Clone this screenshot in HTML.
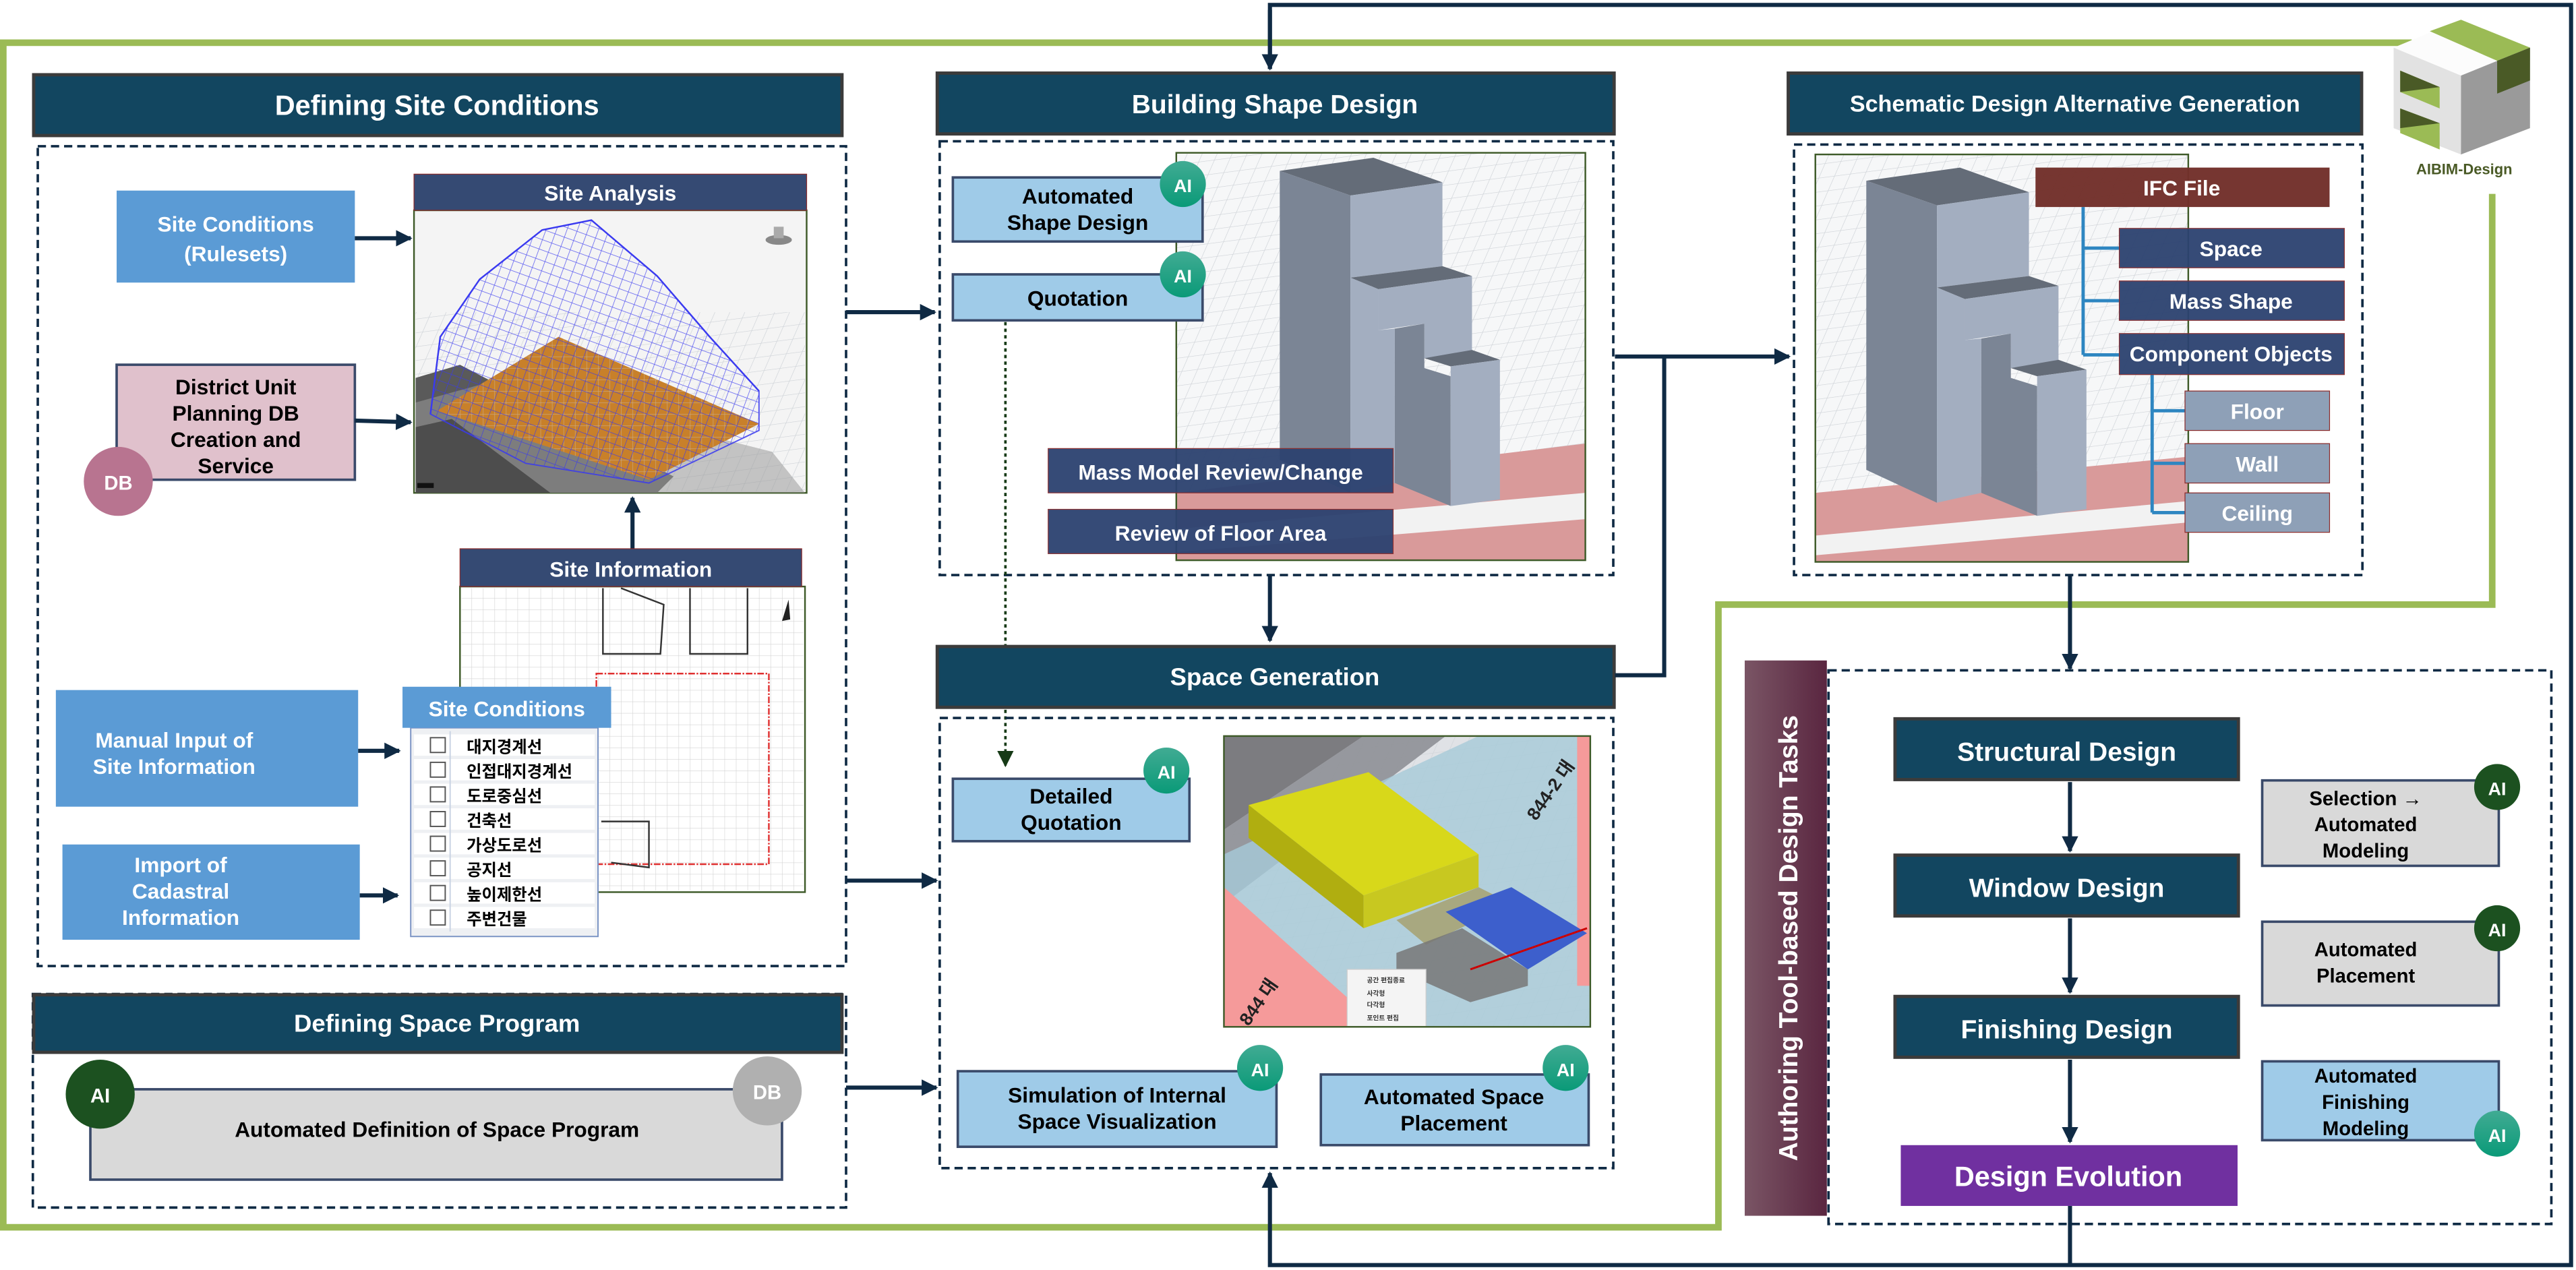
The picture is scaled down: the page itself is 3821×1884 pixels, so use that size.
<!DOCTYPE html>
<html><head><meta charset="utf-8">
<style>
html,body{margin:0;padding:0;background:#fff;}
body{width:3821px;height:1884px;overflow:hidden;}
svg{display:block;}
text{font-family:"Liberation Sans Narrow","Liberation Sans","Noto Sans CJK KR",sans-serif;font-weight:bold;}
.w{fill:#fff;}
.k{fill:#000;}
</style></head>
<body>
<svg width="3821" height="1884" viewBox="0 0 1568 773" preserveAspectRatio="none" xmlns="http://www.w3.org/2000/svg">
<defs>
<pattern id="grid" width="9" height="9" patternUnits="userSpaceOnUse" patternTransform="skewX(-30) rotate(-8)">
<path d="M0 0H9M0 0V9" stroke="#cfd3d8" stroke-width="0.6" fill="none"/></pattern>
<pattern id="grid2" width="7" height="7" patternUnits="userSpaceOnUse">
<path d="M0 0H7M0 0V7" stroke="#c8c8c8" stroke-width="0.5" fill="none"/></pattern>
<pattern id="mesh" width="6" height="6" patternUnits="userSpaceOnUse" patternTransform="rotate(20)">
<path d="M0 0H6M0 0V6" stroke="#3a3af0" stroke-width="0.6" fill="none"/></pattern>
<pattern id="pinkgrid" width="8" height="8" patternUnits="userSpaceOnUse" patternTransform="rotate(40)">
<path d="M0 0H8M0 0V8" stroke="#e88" stroke-width="0.5" fill="none"/></pattern>
<linearGradient id="aut" x1="0" x2="1" y1="0" y2="0"><stop offset="0" stop-color="#7a5565"/><stop offset="1" stop-color="#5a2640"/></linearGradient>
<linearGradient id="aig" x1="0" x2="0" y1="0" y2="1"><stop offset="0" stop-color="#41ab93"/><stop offset="1" stop-color="#0a9a78"/></linearGradient>
<marker id="ah" markerWidth="6" markerHeight="6" refX="5" refY="3" orient="auto" markerUnits="userSpaceOnUse" viewBox="0 0 6 6"><path d="M0 0L6 3L0 6Z" fill="#0f2a44"/></marker>
<marker id="ahb" markerWidth="10" markerHeight="10" refX="9" refY="5" orient="auto" markerUnits="userSpaceOnUse" viewBox="0 0 10 10"><path d="M0 0L10 5L0 10Z" fill="#0f2a44"/></marker>
<marker id="ahg" markerWidth="10" markerHeight="10" refX="9" refY="5" orient="auto" markerUnits="userSpaceOnUse" viewBox="0 0 10 10"><path d="M0 0L10 5L0 10Z" fill="#163a16"/></marker>
</defs>

<!-- green outer frame -->
<path d="M1468 26 L2 26 L2 747 L1046 747 L1046 368 L1517 368 L1517 118" fill="none" stroke="#9bbb55" stroke-width="4"/>
<!-- navy feedback loop -->
<path d="M773 42 L773 3 L1565 3 L1565 770 L773 770 L773 714" fill="none" stroke="#0f2a44" stroke-width="2.5" marker-end="url(#ahb)"/>
<line x1="773" y1="6" x2="773" y2="42" stroke="#0f2a44" stroke-width="2.5" marker-end="url(#ahb)"/>
<line x1="1260" y1="734" x2="1260" y2="770" stroke="#0f2a44" stroke-width="2.5"/>

<!-- ================= Defining Site Conditions ================= -->
<rect x="20.5" y="45.5" width="492" height="37" fill="#124660" stroke="#3b3b3b" stroke-width="2"/>
<text x="266" y="70" font-size="17" text-anchor="middle" class="w">Defining Site Conditions</text>
<rect x="23" y="89" width="492" height="499" fill="none" stroke="#0f2a44" stroke-width="1.5" stroke-dasharray="5,3"/>

<rect x="71" y="116" width="145" height="56" fill="#5b9bd5"/>
<text x="143.5" y="141" font-size="13" text-anchor="middle" class="w">Site Conditions</text>
<text x="143.5" y="159" font-size="13" text-anchor="middle" class="w">(Rulesets)</text>

<rect x="71" y="222" width="145" height="70" fill="#e0c1cc" stroke="#3a4a6a" stroke-width="1.5"/>
<text x="143.5" y="240" font-size="13" text-anchor="middle" class="k">District Unit</text>
<text x="143.5" y="256" font-size="13" text-anchor="middle" class="k">Planning DB</text>
<text x="143.5" y="272" font-size="13" text-anchor="middle" class="k">Creation and</text>
<text x="143.5" y="288" font-size="13" text-anchor="middle" class="k">Service</text>
<circle cx="72" cy="293" r="21" fill="#b87490"/>
<text x="72" y="298" font-size="12" text-anchor="middle" class="w">DB</text>

<line x1="216" y1="145" x2="250" y2="145" stroke="#0f2a44" stroke-width="2.5" marker-end="url(#ahb)"/>
<line x1="216" y1="256" x2="250" y2="257" stroke="#0f2a44" stroke-width="2.5" marker-end="url(#ahb)"/>

<!-- Site analysis image -->
<rect x="252" y="128" width="239" height="172" fill="#f4f4f4" stroke="#3e5a28" stroke-width="1"/>
<rect x="253" y="190" width="237" height="109" fill="url(#grid)"/>
<polygon points="253,230 280,222 410,290 400,300 253,300" fill="#5a5a5a"/>
<polygon points="253,245 300,232 470,275 490,300 253,300" fill="#9a9a9a" opacity="0.55"/>
<polygon points="253,260 275,255 335,300 253,300" fill="#4d4d4d"/>
<polygon points="266,250 340,205 462,258 395,292" fill="#c8802a"/>
<polygon points="266,250 340,205 462,258 395,292" fill="url(#grid2)" opacity="0.6"/>
<polygon points="262,252 268,205 292,170 330,140 360,134 400,168 432,205 462,238 462,262 395,294 320,282" fill="url(#mesh)" stroke="#3a3af0" stroke-width="0.8" opacity="0.85"/>
<polyline points="262,252 268,205 292,170 330,140 360,134 400,168 432,205 462,238" fill="none" stroke="#3a3af0" stroke-width="1"/>
<ellipse cx="474" cy="146" rx="8" ry="3" fill="#888"/>
<rect x="471" y="138" width="6" height="7" fill="#aaa"/>
<rect x="254" y="294" width="10" height="3" fill="#111"/>
<rect x="252" y="106" width="239" height="22" fill="#354a73" stroke="#8a2a2a" stroke-width="0.5"/>
<text x="371.5" y="122" font-size="13" text-anchor="middle" class="w">Site Analysis</text>

<line x1="385" y1="334" x2="385" y2="303" stroke="#0f2a44" stroke-width="2.5" marker-end="url(#ahb)"/>

<!-- Site information -->
<rect x="280" y="357" width="210" height="186" fill="#fff" stroke="#3e5a28" stroke-width="1"/>
<rect x="281" y="358" width="208" height="184" fill="url(#grid2)" opacity="0.8"/>
<rect x="363" y="410" width="105" height="116" fill="none" stroke="#e03030" stroke-width="1" stroke-dasharray="4,1,1,1"/>
<path d="M367 358 L367 398 L402 398 L404 368 L378 358" fill="none" stroke="#333" stroke-width="1"/>
<path d="M420 358 L420 398 L455 398 L455 358" fill="none" stroke="#333" stroke-width="1"/>
<path d="M366 500 L395 500 L395 528 L372 525" fill="none" stroke="#333" stroke-width="1"/>
<path d="M480 365 L476 378 L481 377Z" fill="#222"/>
<rect x="280" y="334" width="208" height="23" fill="#354a73" stroke="#8a2a2a" stroke-width="0.5"/>
<text x="384" y="351" font-size="13" text-anchor="middle" class="w">Site Information</text>

<!-- Site Conditions list -->
<rect x="250" y="443" width="114" height="127" fill="#eef0f3" stroke="#7a93c4" stroke-width="0.8"/>
<g font-size="10" font-family="Noto Sans CJK KR,sans-serif">
<rect x="252" y="447" width="110" height="13" fill="#fff"/><rect x="262" y="449" width="9" height="9" fill="#fff" stroke="#555" stroke-width="0.8"/><text x="284" y="458" font-size="10" class="k" font-weight="normal">대지경계선</text>
<rect x="252" y="462" width="110" height="13" fill="#fff"/><rect x="262" y="464" width="9" height="9" fill="#fff" stroke="#555" stroke-width="0.8"/><text x="284" y="473" font-size="10" class="k" font-weight="normal">인접대지경계선</text>
<rect x="252" y="477" width="110" height="13" fill="#fff"/><rect x="262" y="479" width="9" height="9" fill="#fff" stroke="#555" stroke-width="0.8"/><text x="284" y="488" font-size="10" class="k" font-weight="normal">도로중심선</text>
<rect x="252" y="492" width="110" height="13" fill="#fff"/><rect x="262" y="494" width="9" height="9" fill="#fff" stroke="#555" stroke-width="0.8"/><text x="284" y="503" font-size="10" class="k" font-weight="normal">건축선</text>
<rect x="252" y="507" width="110" height="13" fill="#fff"/><rect x="262" y="509" width="9" height="9" fill="#fff" stroke="#555" stroke-width="0.8"/><text x="284" y="518" font-size="10" class="k" font-weight="normal">가상도로선</text>
<rect x="252" y="522" width="110" height="13" fill="#fff"/><rect x="262" y="524" width="9" height="9" fill="#fff" stroke="#555" stroke-width="0.8"/><text x="284" y="533" font-size="10" class="k" font-weight="normal">공지선</text>
<rect x="252" y="537" width="110" height="13" fill="#fff"/><rect x="262" y="539" width="9" height="9" fill="#fff" stroke="#555" stroke-width="0.8"/><text x="284" y="548" font-size="10" class="k" font-weight="normal">높이제한선</text>
<rect x="252" y="552" width="110" height="13" fill="#fff"/><rect x="262" y="554" width="9" height="9" fill="#fff" stroke="#555" stroke-width="0.8"/><text x="284" y="563" font-size="10" class="k" font-weight="normal">주변건물</text>
</g>
<line x1="274" y1="445" x2="274" y2="567" stroke="#c9d3e3" stroke-width="0.8"/>
<rect x="245" y="418" width="127" height="25" fill="#5b9bd5"/>
<text x="308.5" y="436" font-size="13" text-anchor="middle" class="w">Site Conditions</text>

<rect x="34" y="420" width="184" height="71" fill="#5b9bd5"/>
<text x="106" y="455" font-size="13" text-anchor="middle" class="w">Manual Input of</text>
<text x="106" y="471" font-size="13" text-anchor="middle" class="w">Site Information</text>
<rect x="38" y="514" width="181" height="58" fill="#5b9bd5"/>
<text x="110" y="531" font-size="13" text-anchor="middle" class="w">Import of</text>
<text x="110" y="547" font-size="13" text-anchor="middle" class="w">Cadastral</text>
<text x="110" y="563" font-size="13" text-anchor="middle" class="w">Information</text>
<line x1="218" y1="457" x2="243" y2="457" stroke="#0f2a44" stroke-width="2.5" marker-end="url(#ahb)"/>
<line x1="219" y1="545" x2="242" y2="545" stroke="#0f2a44" stroke-width="2.5" marker-end="url(#ahb)"/>

<!-- ================= Defining Space Program ================= -->
<rect x="20" y="605" width="495" height="130" fill="none" stroke="#0f2a44" stroke-width="1.5" stroke-dasharray="5,3"/>
<rect x="20.5" y="605.5" width="492" height="35" fill="#124660" stroke="#3b3b3b" stroke-width="2"/>
<text x="266" y="628" font-size="15" text-anchor="middle" class="w">Defining Space Program</text>
<rect x="55" y="663" width="421" height="55" fill="#d9d9d9" stroke="#3a4a6a" stroke-width="1.5"/>
<text x="266" y="692" font-size="13" text-anchor="middle" class="k">Automated Definition of Space Program</text>
<circle cx="61" cy="666" r="21" fill="#1c5120"/>
<text x="61" y="671" font-size="12" text-anchor="middle" class="w">AI</text>
<circle cx="467" cy="664" r="21" fill="#b0b0b0"/>
<text x="467" y="669" font-size="12" text-anchor="middle" class="w">DB</text>

<!-- arrows from left column -->
<line x1="515" y1="190" x2="569" y2="190" stroke="#0f2a44" stroke-width="2.5" marker-end="url(#ahb)"/>
<line x1="515" y1="536" x2="570" y2="536" stroke="#0f2a44" stroke-width="2.5" marker-end="url(#ahb)"/>
<line x1="515" y1="662" x2="570" y2="662" stroke="#0f2a44" stroke-width="2.5" marker-end="url(#ahb)"/>

<!-- ================= Building Shape Design ================= -->
<rect x="570.5" y="44.5" width="412" height="37" fill="#124660" stroke="#3b3b3b" stroke-width="2"/>
<text x="776" y="69" font-size="16" text-anchor="middle" class="w">Building Shape Design</text>
<rect x="572" y="86" width="410" height="264" fill="none" stroke="#0f2a44" stroke-width="1.5" stroke-dasharray="5,3"/>

<g id="bimg">
<rect x="716" y="93" width="249" height="248" fill="#f6f7f8"/>
<rect x="716" y="93" width="249" height="248" fill="url(#grid)"/>
<polygon points="716,300 965,270 965,341 716,341" fill="#d99a9a"/>
<polygon points="716,322 965,300 965,316 716,336" fill="#f2f2f2"/>
<g transform="translate(-357,-6)">
<polygon points="1136,110 1193,102 1235,117 1179,125" fill="#646c78"/>
<polygon points="1136,110 1179,125 1179,306 1136,286" fill="#7b8595"/>
<polygon points="1179,125 1235,117 1235,168 1179,175" fill="#a3aec0"/>
<polygon points="1179,175 1235,168 1253,174 1196,182" fill="#646c78"/>
<polygon points="1179,175 1196,182 1196,207 1206,206 1206,300 1179,306" fill="#a3aec0"/>
<polygon points="1196,182 1253,174 1253,220 1224,224 1224,203 1196,207" fill="#a3aec0"/>
<polygon points="1206,206 1224,203 1224,230 1240,235 1240,314 1206,300" fill="#7b8595"/>
<polygon points="1224,224 1253,219 1270,225 1240,229" fill="#646c78"/>
<polygon points="1240,229 1270,225 1270,310 1240,314" fill="#a3aec0"/>
</g>
</g>
<rect x="716" y="93" width="249" height="248" fill="none" stroke="#3e5a28" stroke-width="1"/>

<rect x="580" y="108" width="152" height="39" fill="#9fcbe8" stroke="#3a4a6a" stroke-width="1.5"/>
<text x="656" y="124" font-size="13" text-anchor="middle" class="k">Automated</text>
<text x="656" y="140" font-size="13" text-anchor="middle" class="k">Shape Design</text>
<circle cx="720" cy="112" r="14" fill="url(#aig)"/>
<text x="720" y="117" font-size="11" text-anchor="middle" class="w">AI</text>
<rect x="580" y="167" width="152" height="28" fill="#9fcbe8" stroke="#3a4a6a" stroke-width="1.5"/>
<text x="656" y="186" font-size="13" text-anchor="middle" class="k">Quotation</text>
<circle cx="720" cy="167" r="14" fill="url(#aig)"/>
<text x="720" y="172" font-size="11" text-anchor="middle" class="w">AI</text>

<rect x="638" y="273" width="210" height="27" fill="#2c4270" opacity="0.95" stroke="#8a2a2a" stroke-width="0.5"/>
<text x="743" y="292" font-size="13" text-anchor="middle" class="w">Mass Model Review/Change</text>
<rect x="638" y="310" width="210" height="27" fill="#2c4270" opacity="0.95" stroke="#8a2a2a" stroke-width="0.5"/>
<text x="743" y="329" font-size="13" text-anchor="middle" class="w">Review of Floor Area</text>

<!-- dotted quotation -> detailed quotation -->
<line x1="612" y1="196" x2="612" y2="466" stroke="#163a16" stroke-width="1.5" stroke-dasharray="2,2" marker-end="url(#ahg)"/>

<line x1="773" y1="350" x2="773" y2="390" stroke="#0f2a44" stroke-width="2.5" marker-end="url(#ahb)"/>

<!-- ================= Space Generation ================= -->
<rect x="570.5" y="393.5" width="412" height="37" fill="#124660" stroke="#3b3b3b" stroke-width="2"/>
<text x="776" y="417" font-size="15" text-anchor="middle" class="w">Space Generation</text>
<rect x="572" y="437" width="410" height="274" fill="none" stroke="#0f2a44" stroke-width="1.5" stroke-dasharray="5,3"/>

<rect x="745" y="448" width="223" height="177" fill="#e0e2e6"/>
<rect x="745" y="448" width="223" height="177" fill="url(#grid)"/>
<polygon points="745,448 830,448 745,505" fill="#7c7c80"/>
<polygon points="830,448 880,448 745,550 745,505" fill="#8e9096" opacity="0.9"/>
<polygon points="745,520 900,448 968,448 968,625 745,625" fill="#a6cad8" opacity="0.8"/>
<polygon points="745,540 840,625 745,625" fill="#f59a9a"/>
<polygon points="968,448 968,600 960,600 960,448" fill="#f59a9a"/>
<polygon points="760,490 833,470 900,520 830,545" fill="#d8d81a"/>
<polygon points="760,490 830,545 830,565 760,510" fill="#b0ae10"/>
<polygon points="830,545 900,520 900,540 830,565" fill="#c8c820"/>
<polygon points="850,560 900,540 920,550 868,575" fill="#a8a880"/>
<polygon points="880,555 920,540 966,568 930,590" fill="#3d5fcc"/>
<polygon points="850,580 890,565 930,590 930,600 895,610 850,590" fill="#777" opacity="0.85"/>
<line x1="895" y1="590" x2="966" y2="565" stroke="#c00" stroke-width="1.2"/>
<rect x="820" y="590" width="48" height="35" fill="#f4f4f4" stroke="#ccc" stroke-width="0.5"/>
<text x="832" y="598" font-size="4" fill="#333" font-weight="normal" font-family="Noto Sans CJK KR,sans-serif">공간 편집종료</text>
<text x="832" y="606" font-size="4" fill="#333" font-weight="normal" font-family="Noto Sans CJK KR,sans-serif">사각형</text>
<text x="832" y="613" font-size="4" fill="#333" font-weight="normal" font-family="Noto Sans CJK KR,sans-serif">다각형</text>
<text x="832" y="621" font-size="4" fill="#333" font-weight="normal" font-family="Noto Sans CJK KR,sans-serif">포인트 편집</text>
<text x="935" y="500" font-size="11" fill="#222" font-weight="normal" transform="rotate(-55 935 500)">844-2 대</text>
<text x="760" y="625" font-size="11" fill="#222" font-weight="normal" transform="rotate(-55 760 625)">844 대</text>
<rect x="745" y="448" width="223" height="177" fill="none" stroke="#3e5a28" stroke-width="1"/>

<rect x="580" y="474" width="144" height="38" fill="#9fcbe8" stroke="#3a4a6a" stroke-width="1.5"/>
<text x="652" y="489" font-size="13" text-anchor="middle" class="k">Detailed</text>
<text x="652" y="505" font-size="13" text-anchor="middle" class="k">Quotation</text>
<circle cx="710" cy="469" r="14" fill="url(#aig)"/>
<text x="710" y="474" font-size="11" text-anchor="middle" class="w">AI</text>

<rect x="583" y="652" width="194" height="46" fill="#9fcbe8" stroke="#3a4a6a" stroke-width="1.5"/>
<text x="680" y="671" font-size="13" text-anchor="middle" class="k">Simulation of Internal</text>
<text x="680" y="687" font-size="13" text-anchor="middle" class="k">Space Visualization</text>
<circle cx="767" cy="650" r="14" fill="url(#aig)"/>
<text x="767" y="655" font-size="11" text-anchor="middle" class="w">AI</text>

<rect x="804" y="654" width="163" height="43" fill="#9fcbe8" stroke="#3a4a6a" stroke-width="1.5"/>
<text x="885" y="672" font-size="13" text-anchor="middle" class="k">Automated Space</text>
<text x="885" y="688" font-size="13" text-anchor="middle" class="k">Placement</text>
<circle cx="953" cy="650" r="14" fill="url(#aig)"/>
<text x="953" y="655" font-size="11" text-anchor="middle" class="w">AI</text>

<!-- connectors to schematic -->
<path d="M983 217 L1089 217" fill="none" stroke="#0f2a44" stroke-width="2.5" marker-end="url(#ahb)"/>
<path d="M983 411 L1013 411 L1013 217" fill="none" stroke="#0f2a44" stroke-width="2.5"/>

<!-- ================= Schematic ================= -->
<rect x="1088.5" y="44.5" width="349" height="37" fill="#124660" stroke="#3b3b3b" stroke-width="2"/>
<text x="1263" y="68" font-size="14" text-anchor="middle" class="w">Schematic Design Alternative Generation</text>
<rect x="1092" y="88" width="346" height="262" fill="none" stroke="#0f2a44" stroke-width="1.5" stroke-dasharray="5,3"/>

<rect x="1105" y="94" width="227" height="248" fill="#f6f7f8"/>
<rect x="1105" y="94" width="227" height="248" fill="url(#grid)"/>
<polygon points="1105,300 1332,278 1332,342 1105,342" fill="#d99a9a"/>
<polygon points="1105,326 1332,305 1332,318 1105,338" fill="#f2f2f2"/>
<polygon points="1136,110 1193,102 1235,117 1179,125" fill="#646c78"/>
<polygon points="1136,110 1179,125 1179,306 1136,286" fill="#7b8595"/>
<polygon points="1179,125 1235,117 1235,168 1179,175" fill="#a3aec0"/>
<polygon points="1179,175 1235,168 1253,174 1196,182" fill="#646c78"/>
<polygon points="1179,175 1196,182 1196,207 1206,206 1206,300 1179,306" fill="#a3aec0"/>
<polygon points="1196,182 1253,174 1253,220 1224,224 1224,203 1196,207" fill="#a3aec0"/>
<polygon points="1206,206 1224,203 1224,230 1240,235 1240,314 1206,300" fill="#7b8595"/>
<polygon points="1224,224 1253,219 1270,225 1240,229" fill="#646c78"/>
<polygon points="1240,229 1270,225 1270,310 1240,314" fill="#a3aec0"/>
<rect x="1105" y="94" width="227" height="248" fill="none" stroke="#3e5a28" stroke-width="1"/>

<path d="M1268 126 V216 M1268 151 H1290 M1268 183 H1290 M1268 216 H1290 M1310 228 V312 M1310 250 H1330 M1310 282 H1330 M1310 312 H1330" fill="none" stroke="#2e86c1" stroke-width="2"/>
<rect x="1239" y="102" width="179" height="24" fill="#722f2a" opacity="0.97"/>
<text x="1328" y="119" font-size="13" text-anchor="middle" class="w">IFC File</text>
<rect x="1290" y="139" width="137" height="24" fill="#2c4270" opacity="0.95" stroke="#8a2a2a" stroke-width="0.5"/>
<text x="1358" y="156" font-size="13" text-anchor="middle" class="w">Space</text>
<rect x="1290" y="171" width="137" height="24" fill="#2c4270" opacity="0.95" stroke="#8a2a2a" stroke-width="0.5"/>
<text x="1358" y="188" font-size="13" text-anchor="middle" class="w">Mass Shape</text>
<rect x="1290" y="203" width="137" height="25" fill="#2c4270" opacity="0.95" stroke="#8a2a2a" stroke-width="0.5"/>
<text x="1358" y="220" font-size="13" text-anchor="middle" class="w">Component Objects</text>
<rect x="1330" y="238" width="88" height="24" fill="#8ea0b7" stroke="#8a2a2a" stroke-width="0.5"/>
<text x="1374" y="255" font-size="13" text-anchor="middle" class="w">Floor</text>
<rect x="1330" y="270" width="88" height="24" fill="#8ea0b7" stroke="#8a2a2a" stroke-width="0.5"/>
<text x="1374" y="287" font-size="13" text-anchor="middle" class="w">Wall</text>
<rect x="1330" y="300" width="88" height="24" fill="#8ea0b7" stroke="#8a2a2a" stroke-width="0.5"/>
<text x="1374" y="317" font-size="13" text-anchor="middle" class="w">Ceiling</text>

<!-- logo -->
<polygon points="1457,29 1498,12 1540,29 1498,46" fill="#fcfcfc"/>
<polygon points="1479,19 1498,12 1540,29 1520,37" fill="#9bbb55"/>
<polygon points="1457,29 1498,46 1498,94 1457,78" fill="#e2e2e2"/>
<polygon points="1498,46 1540,29 1540,78 1498,94" fill="#9a9a9a"/>
<polygon points="1520,37 1540,29 1540,49 1520,57" fill="#4a5a26"/>
<polygon points="1461,43 1485,53 1485,66 1461,56" fill="#9bbb55"/>
<polygon points="1461,43 1485,53 1461,56" fill="#4a5a26"/>
<polygon points="1461,66 1485,75 1485,91 1461,81" fill="#9bbb55"/>
<polygon points="1461,66 1485,75 1461,78" fill="#4a5a26"/>
<text x="1500" y="106" font-size="9" text-anchor="middle" fill="#4a5a26">AIBIM-Design</text>

<line x1="1260" y1="350" x2="1260" y2="407" stroke="#0f2a44" stroke-width="2.5" marker-end="url(#ahb)"/>

<!-- ================= Authoring ================= -->
<rect x="1062" y="402" width="50" height="338" fill="url(#aut)"/>
<text x="0" y="0" font-size="16" text-anchor="middle" class="w" font-family="DejaVu Sans,sans-serif" transform="translate(1094 571) rotate(-90)">Authoring Tool-based Design Tasks</text>
<rect x="1113" y="408" width="440" height="337" fill="none" stroke="#0f2a44" stroke-width="1.5" stroke-dasharray="5,3"/>

<rect x="1153.5" y="437.5" width="209" height="37" fill="#124660" stroke="#3b3b3b" stroke-width="2"/>
<text x="1258" y="463" font-size="16" text-anchor="middle" class="w">Structural Design</text>
<rect x="1153.5" y="520.5" width="209" height="37" fill="#124660" stroke="#3b3b3b" stroke-width="2"/>
<text x="1258" y="546" font-size="16" text-anchor="middle" class="w">Window Design</text>
<rect x="1153.5" y="606.5" width="209" height="37" fill="#124660" stroke="#3b3b3b" stroke-width="2"/>
<text x="1258" y="632" font-size="16" text-anchor="middle" class="w">Finishing Design</text>
<rect x="1157" y="697" width="205" height="37" fill="#7030a0"/>
<text x="1259" y="722" font-size="17" text-anchor="middle" class="w">Design Evolution</text>
<line x1="1260" y1="476" x2="1260" y2="518" stroke="#0f2a44" stroke-width="2.5" marker-end="url(#ahb)"/>
<line x1="1260" y1="559" x2="1260" y2="604" stroke="#0f2a44" stroke-width="2.5" marker-end="url(#ahb)"/>
<line x1="1260" y1="645" x2="1260" y2="695" stroke="#0f2a44" stroke-width="2.5" marker-end="url(#ahb)"/>

<rect x="1377" y="475" width="144" height="52" fill="#d9d9d9" stroke="#3a4a6a" stroke-width="1.5"/>
<text x="1440" y="490" font-size="12" text-anchor="middle" class="k">Selection →</text>
<text x="1440" y="506" font-size="12" text-anchor="middle" class="k">Automated</text>
<text x="1440" y="522" font-size="12" text-anchor="middle" class="k">Modeling</text>
<circle cx="1520" cy="479" r="14" fill="#1c5120"/>
<text x="1520" y="484" font-size="11" text-anchor="middle" class="w">AI</text>

<rect x="1377" y="561" width="144" height="51" fill="#d9d9d9" stroke="#3a4a6a" stroke-width="1.5"/>
<text x="1440" y="582" font-size="12" text-anchor="middle" class="k">Automated</text>
<text x="1440" y="598" font-size="12" text-anchor="middle" class="k">Placement</text>
<circle cx="1520" cy="565" r="14" fill="#1c5120"/>
<text x="1520" y="570" font-size="11" text-anchor="middle" class="w">AI</text>

<rect x="1377" y="646" width="144" height="48" fill="#9fcbe8" stroke="#3a4a6a" stroke-width="1.5"/>
<text x="1440" y="659" font-size="12" text-anchor="middle" class="k">Automated</text>
<text x="1440" y="675" font-size="12" text-anchor="middle" class="k">Finishing</text>
<text x="1440" y="691" font-size="12" text-anchor="middle" class="k">Modeling</text>
<circle cx="1520" cy="690" r="14" fill="url(#aig)"/>
<text x="1520" y="695" font-size="11" text-anchor="middle" class="w">AI</text>
</svg>
</body></html>
